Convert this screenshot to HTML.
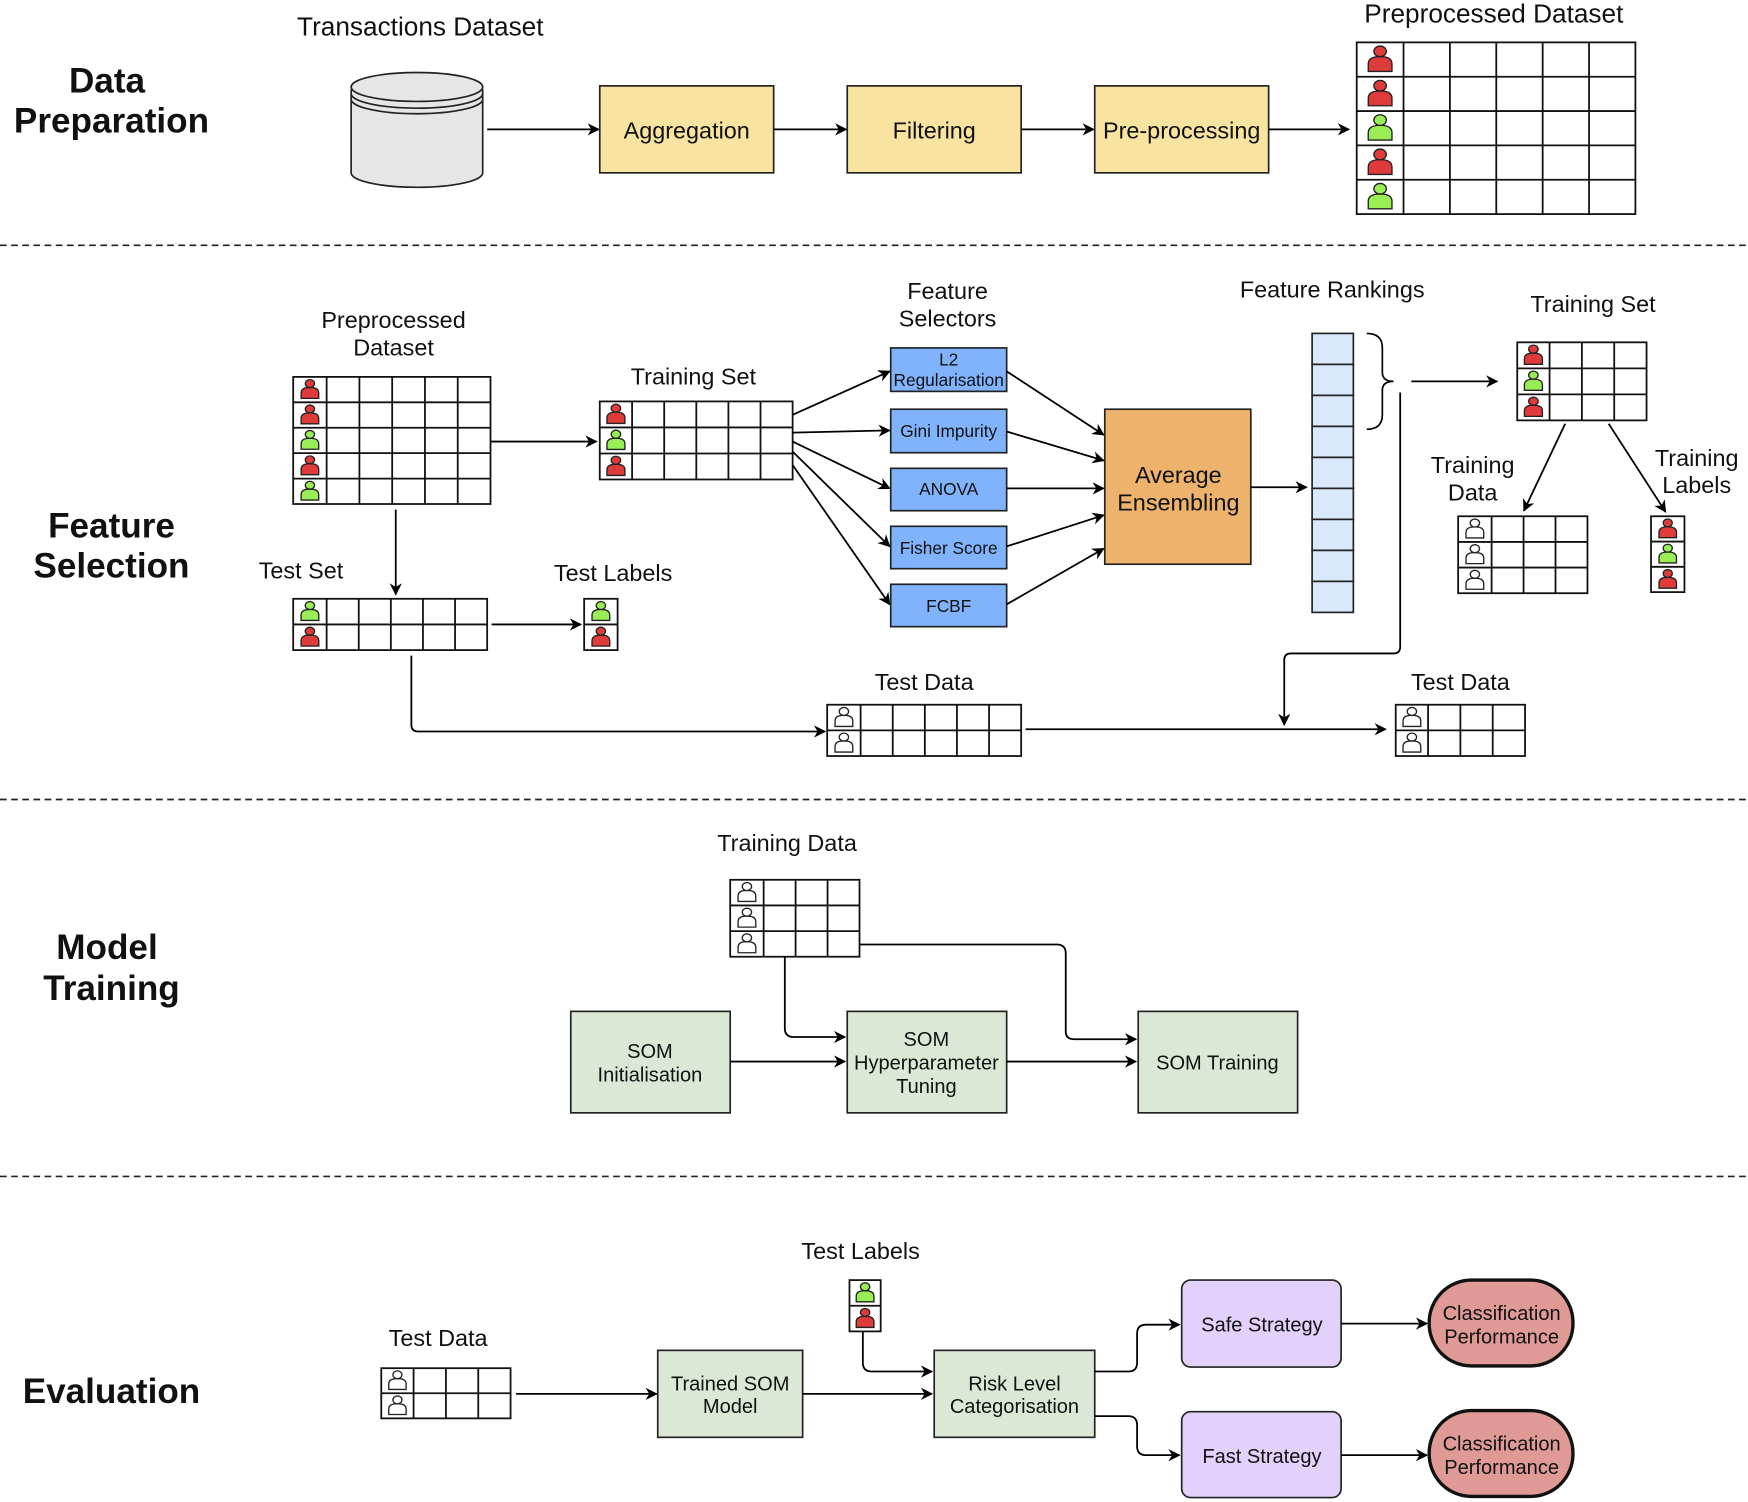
<!DOCTYPE html>
<html><head><meta charset="utf-8"><style>
html,body{margin:0;padding:0;background:#fff}
svg{display:block}
text{font-family:"Liberation Sans",Arial,sans-serif;fill:#111}
.t{font-size:21px;text-anchor:middle}
.L{font-size:23.5px;text-anchor:middle}
.b{font-size:31.5px;font-weight:bold;text-anchor:middle}
.s{font-size:15.5px;text-anchor:middle}
</style></head><body>
<svg id="s" width="1748" height="1502" viewBox="0 0 1568 1347" preserveAspectRatio="none" xmlns="http://www.w3.org/2000/svg">
<defs><marker id="a" viewBox="0 0 10 10" refX="9" refY="5" markerWidth="11" markerHeight="11" orient="auto" markerUnits="userSpaceOnUse"><path d="M0,0 L10,5 L0,10 L3,5 Z" fill="#000"/></marker></defs>
<g id="g"></g>
<g stroke="#222" stroke-width="1.5" stroke-dasharray="6,4">
<line x1="0" y1="220" x2="1568" y2="220"/><line x1="0" y1="717" x2="1568" y2="717"/><line x1="0" y1="1055" x2="1568" y2="1055"/></g>
<text class="b" x="96" y="83">Data</text><text class="b" x="100" y="119">Preparation</text>
<text class="b" x="100" y="482">Feature</text><text class="b" x="100" y="518">Selection</text>
<text class="b" x="96" y="860">Model</text><text class="b" x="100" y="897">Training</text>
<text class="b" x="100" y="1258">Evaluation</text>
<g stroke="#222" stroke-width="1.5">
<path d="M315,80 L315,155 A59,13 0 0 0 433,155 L433,80" fill="#e6e6e6"/>
<ellipse cx="374" cy="78" rx="59" ry="13" fill="#e6e6e6"/>
<path d="M315,84 A59,13 0 0 0 433,84 M315,89 A59,13 0 0 0 433,89" fill="none"/>
<rect x="538" y="77" width="156" height="78" fill="#f8e4a0"/>
<rect x="760" y="77" width="156" height="78" fill="#f8e4a0"/>
<rect x="982" y="77" width="156" height="78" fill="#f8e4a0"/>
</g>
<text class="L" x="377" y="32">Transactions Dataset</text>
<text class="t" x="616" y="124">Aggregation</text>
<text class="t" x="838" y="124">Filtering</text>
<text class="t" x="1060" y="124">Pre-processing</text>
<text class="L" x="1340" y="20">Preprocessed Dataset</text>
<text class="t" x="353" y="294">Preprocessed</text><text class="t" x="353" y="319">Dataset</text>
<text class="t" x="622" y="345">Training Set</text>
<text class="t" x="270" y="519">Test Set</text>
<text class="t" x="550" y="521">Test Labels</text>
<text class="t" x="829" y="619">Test Data</text>
<text class="t" x="1310" y="619">Test Data</text>
<text class="t" x="850" y="268">Feature</text><text class="t" x="850" y="293">Selectors</text>
<text class="t" x="1195" y="267">Feature Rankings</text>
<text class="t" x="1429" y="280">Training Set</text>
<text class="t" x="1321" y="424">Training</text><text class="t" x="1321" y="449">Data</text>
<text class="t" x="1522" y="418">Training</text><text class="t" x="1522" y="442">Labels</text>
<g stroke="#222" stroke-width="1.5">
<rect x="799" y="312" width="104" height="39" fill="#80b3fb"/>
<rect x="799" y="367" width="104" height="39" fill="#80b3fb"/>
<rect x="799" y="420" width="104" height="38" fill="#80b3fb"/>
<rect x="799" y="472" width="104" height="38" fill="#80b3fb"/>
<rect x="799" y="524" width="104" height="38" fill="#80b3fb"/>
<rect x="991" y="367" width="131" height="139" fill="#edb26b"/>
</g>
<text class="s" x="851" y="328">L2</text><text class="s" x="851" y="346">Regularisation</text>
<text class="s" x="851" y="392">Gini Impurity</text>
<text class="s" x="851" y="444">ANOVA</text>
<text class="s" x="851" y="497">Fisher Score</text>
<text class="s" x="851" y="549">FCBF</text>
<text class="t" x="1057" y="433">Average</text><text class="t" x="1057" y="458">Ensembling</text>
<text class="t" x="706" y="763">Training Data</text>
<g stroke="#222" stroke-width="1.5" fill="#dbe8d6">
<rect x="512" y="907" width="143" height="91"/><rect x="760" y="907" width="143" height="91"/><rect x="1021" y="907" width="143" height="91"/>
<rect x="590" y="1211" width="130" height="78"/><rect x="838" y="1211" width="144" height="78"/>
</g>
<g stroke="#222" stroke-width="1.5" fill="#e1d1fb"><rect x="1060" y="1148" width="143" height="78" rx="8"/><rect x="1060" y="1266" width="143" height="77" rx="8"/></g>
<g stroke="#111" stroke-width="3" fill="#e09a96"><rect x="1282" y="1148" width="129" height="77" rx="38"/><rect x="1282" y="1265" width="129" height="77" rx="38"/></g>
<text class="t" x="583" y="949" style="font-size:18px">SOM</text><text class="t" x="583" y="970" style="font-size:18px">Initialisation</text>
<text class="t" x="831" y="938" style="font-size:18px">SOM</text><text class="t" x="831" y="959" style="font-size:18px">Hyperparameter</text><text class="t" x="831" y="980" style="font-size:18px">Tuning</text>
<text class="t" x="1092" y="959" style="font-size:18px">SOM Training</text>
<text class="t" x="393" y="1207">Test Data</text>
<text class="t" x="772" y="1129">Test Labels</text>
<text class="t" x="655" y="1247" style="font-size:18px">Trained SOM</text><text class="t" x="655" y="1267" style="font-size:18px">Model</text>
<text class="t" x="910" y="1247" style="font-size:18px">Risk Level</text><text class="t" x="910" y="1267" style="font-size:18px">Categorisation</text>
<text class="t" x="1132" y="1194" style="font-size:18px">Safe Strategy</text>
<text class="t" x="1132" y="1312" style="font-size:18px">Fast Strategy</text>
<text class="t" x="1347" y="1184" style="font-size:18px">Classification</text><text class="t" x="1347" y="1205" style="font-size:18px">Performance</text>
<text class="t" x="1347" y="1301" style="font-size:18px">Classification</text><text class="t" x="1347" y="1322" style="font-size:18px">Performance</text>
<g stroke="#000" stroke-width="1.6" fill="none" marker-end="url(#a)">
<path d="M437,116H537"/><path d="M694,116H759"/><path d="M916,116H981"/><path d="M1138,116H1210"/>
<path d="M440,396H535"/><path d="M355,457V533"/><path d="M441,560H521"/>
<path d="M369,588V650Q369,656 375,656H740"/><path d="M920,654H1243"/>
<path d="M1256,352V580Q1256,586 1250,586H1158Q1152,586 1152,592V650"/>
<path d="M711,372L798,333"/><path d="M711,388L798,386"/><path d="M711,396L798,438"/><path d="M711,405L798,490"/><path d="M711,417L798,542"/>
<path d="M903,333L990,390"/><path d="M903,387L990,413"/><path d="M903,438L990,438"/><path d="M903,490L990,462"/><path d="M903,542L990,492"/>
<path d="M1122,437H1172"/><path d="M1266,342H1343"/>
<path d="M1404,380L1367,458"/><path d="M1443,380L1494,459"/>
<path d="M655,952H758"/><path d="M903,952H1019"/>
<path d="M704,858V922Q704,930 712,930H758"/>
<path d="M771,847H948Q956,847 956,855V925Q956,932 964,932H1019"/>
<path d="M463,1250H589"/><path d="M720,1250H836"/>
<path d="M774,1194V1222Q774,1230 782,1230H836"/>
<path d="M982,1230H1012Q1020,1230 1020,1222V1196Q1020,1188 1028,1188H1058"/>
<path d="M982,1270H1012Q1020,1270 1020,1278V1297Q1020,1305 1028,1305H1058"/>
<path d="M1203,1187H1280"/><path d="M1203,1305H1280"/>
</g>
<path d="M1226,299Q1240,299 1240,312V334Q1240,342 1250,342Q1240,342 1240,350V372Q1240,385 1226,385" stroke="#000" stroke-width="1.5" fill="none"/>
</svg>
<script>
var NS="http://www.w3.org/2000/svg",G=document.getElementById("g");
function el(t,a){var e=document.createElementNS(NS,t);for(var k in a)e.setAttribute(k,a[k]);G.appendChild(e);return e;}
var C={r:"#e03b3b",g:"#99ee55",w:"#fff"};
function person(cx,cy,h,c){var s=h/22;
 el("path",{d:"M"+(cx-8*s)+","+(cy+8*s)+"V"+(cy+3*s)+"Q"+(cx-8*s)+","+(cy-2*s)+" "+cx+","+(cy-2*s)+"Q"+(cx+8*s)+","+(cy-2*s)+" "+(cx+8*s)+","+(cy+3*s)+"V"+(cy+8*s)+"Z",fill:C[c],stroke:"#222","stroke-width":1.2});
 el("ellipse",{cx:cx,cy:cy-5.5*s,rx:4.2*s,ry:3.6*s,fill:C[c],stroke:"#222","stroke-width":1.2});}
function table(x,y,x2,y2,ncols,icons,fc){var n=icons.length,rh=(y2-y)/n,fw=fc||30;
 el("rect",{x:x,y:y,width:x2-x,height:y2-y,fill:"#fff",stroke:"#111","stroke-width":1.6});
 for(var i=1;i<n;i++)el("line",{x1:x,x2:x2,y1:y+i*rh,y2:y+i*rh,stroke:"#111","stroke-width":1.6});
 if(ncols>0){var cw=(x2-x-fw)/ncols;for(var j=0;j<ncols;j++)el("line",{x1:x+fw+j*cw,x2:x+fw+j*cw,y1:y,y2:y2,stroke:"#111","stroke-width":1.6});}
 for(var i=0;i<n;i++)person(x+fw/2,y+i*rh+rh/2,Math.min(rh,fw)*0.95,icons[i]);}
table(1217,38,1467,192,5,"rrgrg".split(""),42);
table(263,338,440,452,5,"rrgrg".split(""),30);
table(538,360,711,430,5,"rgr".split(""),29);
table(263,537,437,583,5,"gr".split(""),30);
table(524,537,554,583,0,"gr".split(""),30);
table(742,632,916,678,5,"ww".split(""),30);
table(1252,632,1368,678,3,"ww".split(""),29);
table(1361,307,1477,377,3,"rgr".split(""),29);
table(1308,463,1424,532,3,"www".split(""),30);
table(1481,463,1511,531,0,"rgr".split(""),30);
table(655,789,771,858,3,"www".split(""),30);
table(342,1227,458,1272,3,"ww".split(""),29);
table(762,1148,790,1194,0,"gr".split(""),28);
for(var i=0;i<9;i++)el("rect",{x:1177,y:299+i*27.8,width:37,height:27.8,fill:"#dae8fc",stroke:"#222","stroke-width":1.5});
</script>
</body></html>
